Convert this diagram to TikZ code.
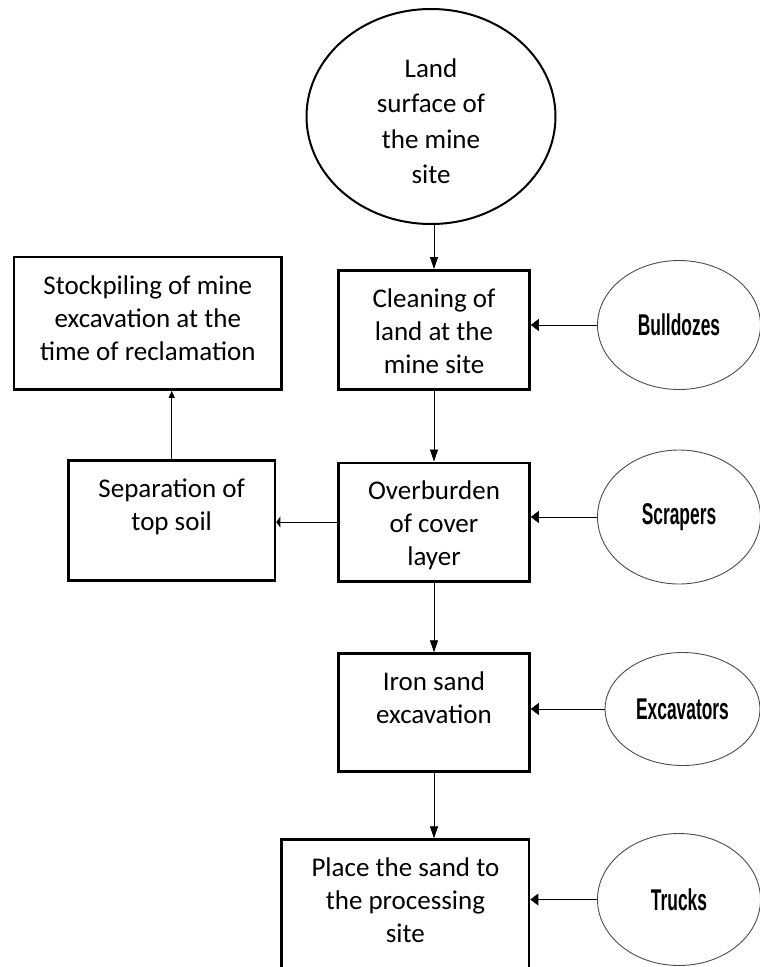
\documentclass[tikz,border=0pt]{standalone}
\usepackage{fontspec}
\setmainfont{Carlito}
\newfontfamily\toolfamily[FakeStretch=0.58]{Liberation Sans}
\usetikzlibrary{shapes.geometric,arrows.meta}

\newcommand{\boxfont}{\fontsize{27}{33}\selectfont}
\newcommand{\landfont}{\fontsize{27}{35.3}\selectfont}
\newcommand{\toolfont}{\toolfamily\bfseries\fontsize{30}{36}\selectfont}
\newcommand{\boxstrut}{\rule{0pt}{37pt}}

\begin{document}
\begin{tikzpicture}[x=1pt,y=-1pt]
\tikzstyle{block} = [rectangle, draw, line width=2.6pt, inner sep=0pt, anchor=north, align=center, font=\boxfont]
\tikzstyle{tool} = [ellipse, draw=black!70, line width=0.9pt, inner sep=0pt, font=\toolfont]
\tikzstyle{flow} = [-{Triangle[length=12pt,width=8pt]}, line width=0.8pt]
\tikzstyle{feed} = [-{Triangle[length=8pt,width=12pt]}, line width=0.8pt]

\useasboundingbox (0,0) rectangle (760,967);

\node at (431,116.5) [ellipse, draw, line width=2pt, minimum width=249pt, minimum height=215pt, inner sep=0pt, align=center, font=\landfont] (land) {\rule{0pt}{28pt}Land\\surface of\\the mine\\site};

\node at (434,269) [block, minimum width=191pt, text depth=16.3pt] (clean) {\boxstrut Cleaning of\\land at the\\mine site};
\node at (147.8,255.7) [block, minimum width=267.7pt, text depth=29.6pt] (stock) {\boxstrut Stockpiling of mine\\excavation at the\\time of reclamation};

\node at (434,461.5) [block, minimum width=191pt, text depth=15.5pt] (over) {\boxstrut Overburden\\of cover\\layer};
\node at (171.7,459.3) [block, minimum width=206.7pt, text depth=50pt] (sep) {\boxstrut Separation of\\top soil};

\node at (434,652.3) [block, minimum width=191pt, text depth=47.7pt] (iron) {\boxstrut Iron sand\\excavation};

\node at (405.4,838.3) [block, minimum width=247.3pt, text depth=37pt] (place) {\boxstrut Place the sand to\\the processing\\site};

\node at (679,325) [tool, minimum width=163pt, minimum height=129pt] (bull) {Bulldozes};
\node at (679,517) [tool, minimum width=163pt, minimum height=134pt] (scrap) {Scrapers};
\node at (682.5,709) [tool, minimum width=155pt, minimum height=113pt] (exca) {Excavators};
\node at (679,899.5) [tool, minimum width=163pt, minimum height=132pt] (truck) {Trucks};

\draw[flow] (land.south -| clean.north) -- (clean.north);
\draw[flow] (clean.south) -- (over.north);
\draw[flow] (over.south) -- (iron.north);
\draw[flow] (iron.south) -- (iron.south |- place.north);

\draw[-{Triangle[length=4pt,width=11pt]}, line width=0.8pt] (over.west) -- (over.west -| sep.east);
\draw[-{Triangle[length=7pt,width=6pt]}, line width=0.8pt] (sep.north) -- (sep.north |- stock.south);

\draw[feed] (bull.west) -- (bull.west -| clean.east);
\draw[feed] (scrap.west) -- (scrap.west -| over.east);
\draw[feed] (exca.west) -- (exca.west -| iron.east);
\draw[feed] (truck.west) -- (truck.west -| place.east);

\end{tikzpicture}
\end{document}
